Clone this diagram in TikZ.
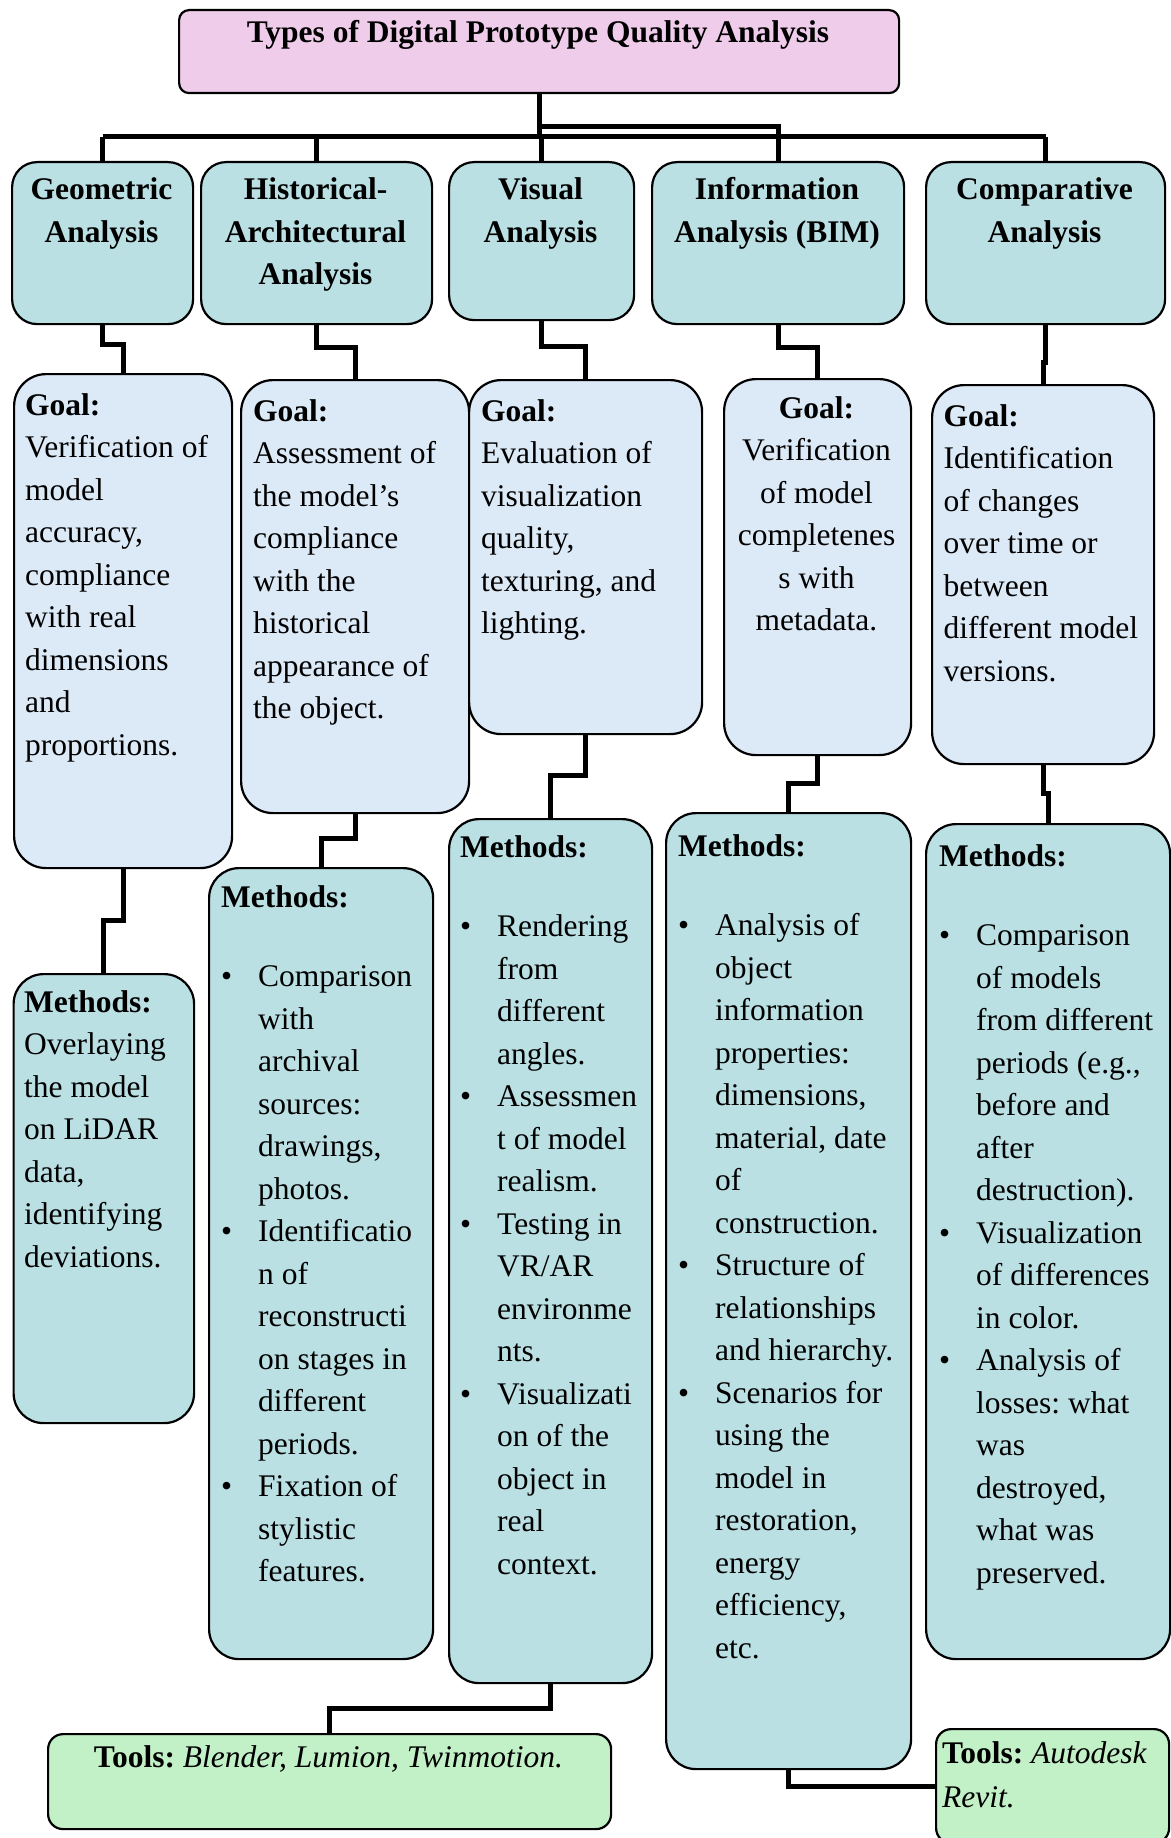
\documentclass[tikz,border=0pt]{standalone}
\usepackage{fontspec}
\setmainfont{Liberation Serif}
\usetikzlibrary{backgrounds}
\definecolor{titlec}{HTML}{F0CCEB}
\definecolor{tealc}{HTML}{BAE0E4}
\definecolor{goalc}{HTML}{DCE9F6}
\definecolor{toolc}{HTML}{C2F0C7}
\newcommand{\myfont}{\fontsize{31.5}{42.5}\selectfont\frenchspacing}
\newcommand{\bitem}[1]{\makebox[37pt][l]{\textbullet}#1}
\newcommand{\bcont}[1]{\hspace*{37pt}#1}
\newcommand{\ltext}[2]{\begin{minipage}[t]{#1pt}\raggedright #2\end{minipage}}
\newcommand{\ctext}[2]{\begin{minipage}[t]{#1pt}\centering #2\end{minipage}}
\begin{document}
\frenchspacing
\begin{tikzpicture}[x=1pt,y=-1pt,
  box/.style={draw=black,line width=2.2pt,inner sep=0pt,anchor=north west},
  lvl/.style={box,fill=tealc,rounded corners=25pt},
  goalbox/.style={box,fill=goalc,rounded corners=32pt},
  methbox/.style={box,fill=tealc,rounded corners=30pt},
  toolbox/.style={box,fill=toolc,rounded corners=15pt},
  conn/.style={draw=black,line width=5pt},
  lt/.style={inner sep=0pt,anchor=base west,font=\myfont},
  ct/.style={inner sep=0pt,anchor=base,font=\myfont}]
\useasboundingbox (0,0) rectangle (1170,1838);

% ---------- boxes ----------
\node[box,fill=titlec,rounded corners=10pt,minimum width=720pt,minimum height=83pt] (title) at (178,9) {};

\node[lvl,minimum width=181pt,minimum height=162pt] (geo) at (11,161) {};
\node[lvl,minimum width=231pt,minimum height=162pt] (hist) at (200,161) {};
\node[lvl,minimum width=185pt,minimum height=158pt] (vis) at (448,161) {};
\node[lvl,minimum width=252pt,minimum height=162pt] (info) at (651,161) {};
\node[lvl,minimum width=239pt,minimum height=162pt] (comp) at (925,161) {};

\node[goalbox,minimum width=218pt,minimum height=494pt] (g1) at (13,373) {};
\node[goalbox,minimum width=228pt,minimum height=433pt] (g2) at (240,379) {};
\node[goalbox,minimum width=233pt,minimum height=354pt] (g3) at (468,379) {};
\node[goalbox,minimum width=187pt,minimum height=376pt] (g4) at (723,378) {};
\node[goalbox,minimum width=222pt,minimum height=379pt] (g5) at (931,384) {};

\node[methbox,minimum width=180.5pt,minimum height=449pt] (m1) at (12.5,973) {};
\node[methbox,minimum width=224pt,minimum height=791pt] (m2) at (208,867) {};
\node[methbox,minimum width=203pt,minimum height=864pt] (m3) at (448,818) {};
\node[methbox,minimum width=245pt,minimum height=956pt] (m4) at (665,812) {};
\node[methbox,minimum width=244pt,minimum height=835pt] (m5) at (925,823) {};

\node[toolbox,minimum width=563pt,minimum height=95pt] (t1) at (47,1733) {};
\node[toolbox,minimum width=233pt,minimum height=114pt] (t2) at (935,1728) {};

% ---------- connectors ----------
\coordinate (bar) at (0,137);
\coordinate (barhi) at (0,127);
\coordinate (y1) at (0,344);
\coordinate (y2) at (0,347);
\coordinate (y3) at (0,346);
\coordinate (y4) at (0,347);
\coordinate (y5) at (0,362);
\coordinate (z1) at (0,920);
\coordinate (z2) at (0,838);
\coordinate (z3) at (0,775);
\coordinate (z4) at (0,783);
\coordinate (z5) at (0,793);
\coordinate (w1) at (0,1708);

\begin{pgfonlayer}{background}
\draw[conn] (title.south) -- (title.south |- bar);
\draw[conn] (geo.north |- bar) -- (comp.north |- bar);
\draw[conn] (geo.north |- bar) -- (geo.north);
\draw[conn] (hist.north |- bar) -- (hist.north);
\draw[conn] (vis.north |- bar) -- (vis.north);
\draw[conn] (comp.north |- bar) -- (comp.north);
\draw[conn] (title.south |- barhi) -| (info.north);

\draw[conn] (geo.south) -- (geo.south |- y1) -| (g1.north);
\draw[conn] (hist.south) -- (hist.south |- y2) -| (g2.north);
\draw[conn] (vis.south) -- (vis.south |- y3) -| (g3.north);
\draw[conn] (info.south) -- (info.south |- y4) -| (g4.north);
\draw[conn] (comp.south) -- (comp.south |- y5) -| (g5.north);

\draw[conn] (g1.south) -- (g1.south |- z1) -| (m1.north);
\draw[conn] (g2.south) -- (g2.south |- z2) -| (m2.north);
\draw[conn] (g3.south) -- (g3.south |- z3) -| (m3.north);
\draw[conn] (g4.south) -- (g4.south |- z4) -| (m4.north);
\draw[conn] (g5.south) -- (g5.south |- z5) -| (m5.north);

\draw[conn] (m3.south) -- (m3.south |- w1) -| (t1.north);
\draw[conn] (m4.south) |- (t2.west);
\end{pgfonlayer}

% ---------- texts ----------
\node[ct] (title-t) at (538,43) {\textbf{Types of Digital Prototype Quality Analysis}};

\node[ct] (geo-t) at (101.5,200) {\ctext{181}{\bfseries Geometric\\Analysis}};
\node[ct] (hist-t) at (315.5,200) {\ctext{231}{\bfseries Historical-\\Architectural\\Analysis}};
\node[ct] (vis-t) at (540.5,200) {\ctext{185}{\bfseries Visual\\Analysis}};
\node[ct] (info-t) at (777,200) {\ctext{252}{\bfseries Information\\Analysis (BIM)}};
\node[ct] (comp-t) at (1044.5,200) {\ctext{239}{\bfseries Comparative\\Analysis}};

\node[lt] (g1-t) at (25,415) {\ltext{300}{\textbf{Goal:}\\Verification of\\model\\accuracy,\\compliance\\with real\\dimensions\\and\\proportions.}};
\node[lt] (g2-t) at (253,421) {\ltext{300}{\textbf{Goal:}\\Assessment of\\the model’s\\compliance\\with the\\historical\\appearance of\\the object.}};
\node[lt] (g3-t) at (481,421) {\ltext{300}{\textbf{Goal:}\\Evaluation of\\visualization\\quality,\\texturing, and\\lighting.}};
\node[ct] (g4-t) at (816.5,418) {\ctext{187}{\textbf{Goal:}\\Verification\\of model\\completenes\\s with\\metadata.}};
\node[lt] (g5-t) at (943.5,426) {\ltext{300}{\textbf{Goal:}\\Identification\\of changes\\over time or\\between\\different model\\versions.}};

\node[lt] (m1-t) at (24,1012) {\ltext{300}{\textbf{Methods:}\\Overlaying\\the model\\on LiDAR\\data,\\identifying\\deviations.}};
\node[lt] (m2-t) at (221,907) {\ltext{300}{\textbf{Methods:}\\[37pt]\bitem{Comparison}\\\bcont{with}\\\bcont{archival}\\\bcont{sources:}\\\bcont{drawings,}\\\bcont{photos.}\\\bitem{Identificatio}\\\bcont{n of}\\\bcont{reconstructi}\\\bcont{on stages in}\\\bcont{different}\\\bcont{periods.}\\\bitem{Fixation of}\\\bcont{stylistic}\\\bcont{features.}}};
\node[lt] (m3-t) at (460,857) {\ltext{300}{\textbf{Methods:}\\[37pt]\bitem{Rendering}\\\bcont{from}\\\bcont{different}\\\bcont{angles.}\\\bitem{Assessmen}\\\bcont{t of model}\\\bcont{realism.}\\\bitem{Testing in}\\\bcont{VR/AR}\\\bcont{environme}\\\bcont{nts.}\\\bitem{Visualizati}\\\bcont{on of the}\\\bcont{object in}\\\bcont{real}\\\bcont{context.}}};
\node[lt] (m4-t) at (678,856) {\ltext{300}{\textbf{Methods:}\\[37pt]\bitem{Analysis of}\\\bcont{object}\\\bcont{information}\\\bcont{properties:}\\\bcont{dimensions,}\\\bcont{material, date}\\\bcont{of}\\\bcont{construction.}\\\bitem{Structure of}\\\bcont{relationships}\\\bcont{and hierarchy.}\\\bitem{Scenarios for}\\\bcont{using the}\\\bcont{model in}\\\bcont{restoration,}\\\bcont{energy}\\\bcont{efficiency,}\\\bcont{etc.}}};
\node[lt] (m5-t) at (939,866) {\ltext{300}{\textbf{Methods:}\\[37pt]\bitem{Comparison}\\\bcont{of models}\\\bcont{from different}\\\bcont{periods (e.g.,}\\\bcont{before and}\\\bcont{after}\\\bcont{destruction).}\\\bitem{Visualization}\\\bcont{of differences}\\\bcont{in color.}\\\bitem{Analysis of}\\\bcont{losses: what}\\\bcont{was}\\\bcont{destroyed,}\\\bcont{what was}\\\bcont{preserved.}}};

\node[ct] (t1-t) at (328.5,1767) {\textbf{Tools:} \textit{Blender, Lumion, Twinmotion.}};
\node[lt] (t2-t) at (942,1763) {\ltext{300}{\textbf{Tools:} \textit{Autodesk}\\[1.5pt]\textit{Revit.}}};
\end{tikzpicture}
\end{document}
